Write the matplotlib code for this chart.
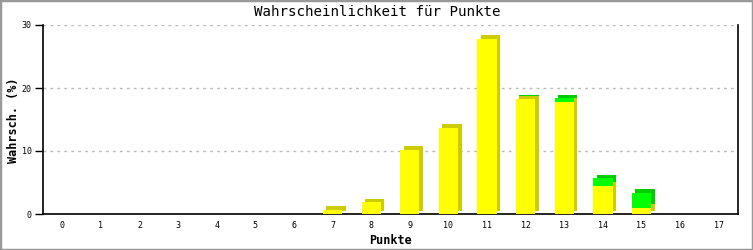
import matplotlib
matplotlib.use("Agg")
import matplotlib.pyplot as plt
import matplotlib.transforms as mtransforms
from matplotlib.patches import Rectangle

punkte = list(range(18))
tick_labels = [str(p) for p in punkte]
yellow_vals = [0, 0, 0, 0, 0, 0, 0, 0.65, 1.9, 10.2, 13.7, 27.8, 18.2, 17.8, 4.5, 1.0, 0, 0]
green_vals = [0, 0, 0, 0, 0, 0, 0, 0, 0, 0, 0, 0, 0.1, 0.6, 1.2, 2.4, 0, 0]
y_ticks = [0, 10, 20, 30]

title = "Wahrscheinlichkeit für Punkte"
xlabel = "Punkte"
ylabel = "Wahrsch. (%)"

mono = ["DejaVu Sans Mono"]

fig = plt.figure(figsize=(7.53, 2.5), dpi=100)
ax = fig.add_axes([43 / 753, 36 / 250, 695 / 753, 189 / 250])

width = 0.5
dx, dy = 3.5 / 100, 3.5 / 100
shadow = ax.transData + mtransforms.ScaledTranslation(dx, dy, fig.dpi_scale_trans)

# shadows (3D side/top faces)
ax.bar(punkte, yellow_vals, width=width, color="#cccc00", linewidth=0, transform=shadow, zorder=2)
ax.bar(punkte, green_vals, width=width, bottom=yellow_vals, color="#00cc00", linewidth=0,
       transform=shadow, zorder=2)
# front faces
ax.bar(punkte, yellow_vals, width=width, color="#ffff00", linewidth=0, zorder=3)
ax.bar(punkte, green_vals, width=width, bottom=yellow_vals, color="#00ff00", linewidth=0, zorder=3)

ax.set_xlim(-0.5, 17.5)
ax.set_ylim(0, 30)
ax.set_xticks(punkte)
ax.set_xticklabels(tick_labels, family=mono, fontsize=6)
ax.set_yticks(y_ticks)
ax.set_yticklabels([str(v) for v in y_ticks], family=mono, fontsize=6)
ax.tick_params(axis="x", length=0, pad=5)
ax.tick_params(axis="y", length=6, width=1, direction="out", pad=2)

ax.yaxis.grid(True, color="#bbbbbb", linestyle=(0, (2, 3)), linewidth=1)
ax.set_axisbelow(True)

ax.spines["top"].set_visible(False)
for s in ["left", "right", "bottom"]:
    ax.spines[s].set_color("black")
    ax.spines[s].set_linewidth(1.2)

fig.text(390 / 753, 1 - 240 / 250, xlabel, family=mono, fontsize=8.5, fontweight="bold",
         ha="center", va="center")
fig.text(14 / 753, 1 - 120 / 250, ylabel, family=mono, fontsize=8.5, fontweight="bold",
         ha="center", va="center", rotation=90)

fig.text(377 / 753, 1 - 12 / 250, title, family=mono, fontsize=10.2, ha="center", va="center")

fig.patches.append(Rectangle((0, 0), 1, 1, transform=fig.transFigure, fill=False,
                             edgecolor="#999999", linewidth=2.5, zorder=10))

fig.savefig("out.png", dpi=100, facecolor="white")
